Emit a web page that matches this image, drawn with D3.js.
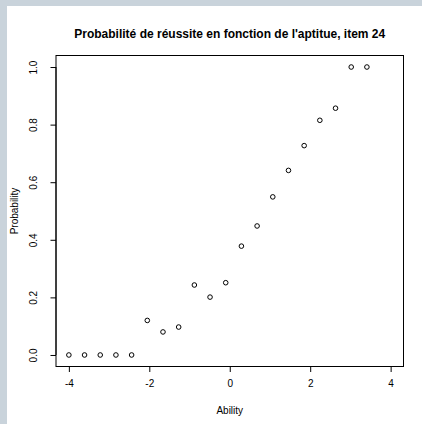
<!DOCTYPE html>
<html>
<head>
<meta charset="utf-8">
<script src="https://cdn.jsdelivr.net/npm/d3@7/dist/d3.min.js"></script>
<style>
  html, body { margin: 0; padding: 0; background: #c9d3db; }
  svg { display: block; }
  text { font-family: "Liberation Sans", Arial, Helvetica, sans-serif; fill: #000; }
</style>
</head>
<body>
<script>
// Ability levels (x) and observed proportion of correct answers (y) for item 24
const ability = [-4.00, -3.61, -3.22, -2.83, -2.44, -2.05, -1.66, -1.27, -0.88, -0.49,
                 -0.10, 0.29, 0.68, 1.07, 1.46, 1.85, 2.24, 2.63, 3.02, 3.41];
const probability = [0, 0, 0, 0, 0, 0.120, 0.080, 0.097, 0.243, 0.201,
                     0.251, 0.378, 0.448, 0.549, 0.641, 0.727, 0.815, 0.857, 1.0, 1.0];
const xTicks = [-4, -2, 0, 2, 4];
const yTicks = [0, 0.2, 0.4, 0.6, 0.8, 1.0];
const titleText = "Probabilité de réussite en fonction de l'aptitue, item 24";
const xLabel = "Ability";
const yLabel = "Probability";

const W = 422, H = 424;
const svg = d3.select("body").append("svg").attr("width", W).attr("height", H);

// white page area
svg.append("rect").attr("x", 7).attr("y", 6).attr("width", W - 7).attr("height", H - 6).attr("fill", "#fff");

const box = { left: 56, right: 403.5, top: 55.5, bottom: 366.5 };

// axis limits padded by 4% like base R graphics
const xDom = [-4, 4], yDom = [0, 1];
const px = (xDom[1] - xDom[0]) * 0.04, py = (yDom[1] - yDom[0]) * 0.04;
const x = d3.scaleLinear().domain([xDom[0] - px, xDom[1] + px]).range([box.left, box.right]);
const y = d3.scaleLinear().domain([yDom[0] - py, yDom[1] + py]).range([box.bottom, box.top]);

const tickLen = 5.5;

// x axis
const xAxis = svg.append("g").attr("transform", `translate(0,${box.bottom})`)
  .call(d3.axisBottom(x).tickValues(xTicks).tickFormat(d3.format("d")).tickSize(tickLen).tickPadding(8));
xAxis.select(".domain").attr("d", `M${x(xTicks[0])},0H${x(xTicks[xTicks.length - 1])}`).attr("stroke", "#000");
xAxis.selectAll(".tick line").attr("stroke", "#000");
xAxis.selectAll(".tick text").attr("font-size", 10).attr("fill", "#000").attr("font-family", "Liberation Sans, Arial, sans-serif")
  .text(d => d < 0 ? "-" + Math.abs(d) : d);

// y axis with rotated labels
const yAxis = svg.append("g").attr("transform", `translate(${box.left},0)`)
  .call(d3.axisLeft(y).tickValues(yTicks).tickFormat(d3.format(".1f")).tickSize(tickLen));
yAxis.select(".domain").attr("d", `M0,${y(yTicks[0])}V${y(yTicks[yTicks.length - 1])}`).attr("stroke", "#000");
yAxis.selectAll(".tick line").attr("stroke", "#000");
yAxis.selectAll(".tick text")
  .attr("font-size", 10).attr("fill", "#000").attr("font-family", "Liberation Sans, Arial, sans-serif")
  .attr("x", null).attr("dy", null)
  .attr("text-anchor", "middle")
  .attr("transform", "translate(-19,0) rotate(-90)");

// plot frame
svg.append("rect")
  .attr("x", box.left).attr("y", box.top)
  .attr("width", box.right - box.left).attr("height", box.bottom - box.top)
  .attr("fill", "none").attr("stroke", "#000").attr("stroke-width", 1);

// open circle markers
svg.append("g").selectAll("circle")
  .data(ability.map((a, i) => [a, probability[i]]))
  .join("circle")
  .attr("cx", d => x(d[0])).attr("cy", d => y(d[1]))
  .attr("r", 2.3)
  .attr("fill", "none").attr("stroke", "#000").attr("stroke-width", 1);

// titles
svg.append("text").attr("x", (box.left + box.right) / 2).attr("y", 37.5)
  .attr("text-anchor", "middle").attr("font-weight", "bold").attr("font-size", 12)
  .text(titleText);
svg.append("text").attr("x", (box.left + box.right) / 2).attr("y", 414)
  .attr("text-anchor", "middle").attr("font-size", 10).text(xLabel);
svg.append("text").attr("transform", `translate(18,${(box.top + box.bottom) / 2}) rotate(-90)`)
  .attr("text-anchor", "middle").attr("font-size", 10).text(yLabel);
</script>
</body>
</html>
